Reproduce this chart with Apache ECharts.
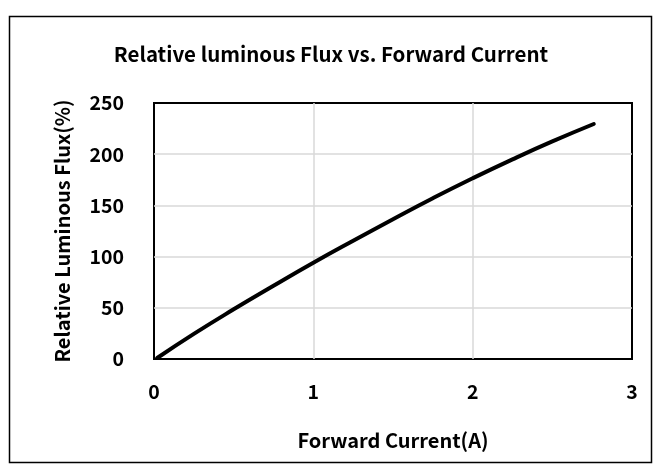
<!DOCTYPE html>
<html>
<head>
<meta charset="utf-8">
<script src="https://cdn.jsdelivr.net/npm/echarts@6/dist/echarts.min.js"></script>
<style>
  html, body { margin: 0; padding: 0; background: #fff; }
  #chart { width: 662px; height: 473px; }
</style>
</head>
<body>
<div id="chart"></div>
<script>
// values
var currentA = [0.02, 0.25, 0.5, 0.75, 1.0, 1.25, 1.5, 1.75, 2.0, 2.25, 2.5, 2.76];
var fluxPct = [1, 24.5, 48.5, 71.5, 94, 115.5, 136.5, 157, 176.5, 195, 212.5, 229.5];
var xTicks = [0, 1, 2, 3];
var yTicks = [0, 50, 100, 150, 200, 250];

var font = '"Noto Sans CJK KR", "Noto Sans", sans-serif';

var chart = echarts.init(document.getElementById('chart'), null, { renderer: 'canvas' });

var points = currentA.map(function (x, i) { return [x, fluxPct[i]]; });

var option = {
  backgroundColor: '#ffffff',
  animation: false,
  title: {
    text: 'Relative luminous Flux vs. Forward Current',
    left: 'center',
    top: 39,
    textStyle: { fontFamily: font, fontSize: 20.5, fontWeight: 'bold', color: '#000' }
  },
  graphic: [{
    type: 'rect',
    shape: { x: 9.5, y: 16.5, width: 642, height: 446 },
    style: { fill: 'none', stroke: '#000', lineWidth: 1.5 },
    silent: true,
    z: 100
  }],
  grid: {
    left: 154, top: 103, right: 30, bottom: 114,
    show: true,
    borderColor: '#000',
    borderWidth: 2,
    backgroundColor: 'transparent'
  },
  xAxis: {
    type: 'value',
    min: xTicks[0],
    max: xTicks[xTicks.length - 1],
    interval: 1,
    name: 'Forward Current(A)',
    nameLocation: 'middle',
    nameGap: 71,
    nameTextStyle: { fontFamily: font, fontSize: 20, fontWeight: 'bold', color: '#000' },
    axisLine: { show: false },
    axisTick: { show: false },
    axisLabel: { fontFamily: font, fontSize: 19.5, fontWeight: 'bold', color: '#000', margin: 23 },
    splitLine: { showMinLine: false, showMaxLine: false, lineStyle: { color: '#d9d9d9', width: 1.5 } }
  },
  yAxis: {
    type: 'value',
    min: yTicks[0],
    max: yTicks[yTicks.length - 1],
    interval: 50,
    name: 'Relative Luminous Flux(%)',
    nameLocation: 'middle',
    nameGap: 82,
    nameTextStyle: { fontFamily: font, fontSize: 20, fontWeight: 'bold', color: '#000' },
    axisLine: { show: false },
    axisTick: { show: false },
    axisLabel: { fontFamily: font, fontSize: 19.5, fontWeight: 'bold', color: '#000', margin: 30 },
    splitLine: { showMinLine: false, showMaxLine: false, lineStyle: { color: '#d9d9d9', width: 1.5 } }
  },
  series: [{
    type: 'line',
    data: points,
    smooth: true,
    showSymbol: false,
    lineStyle: { color: '#000', width: 4, cap: 'round' }
  }]
};

chart.setOption(option);
</script>
</body>
</html>
